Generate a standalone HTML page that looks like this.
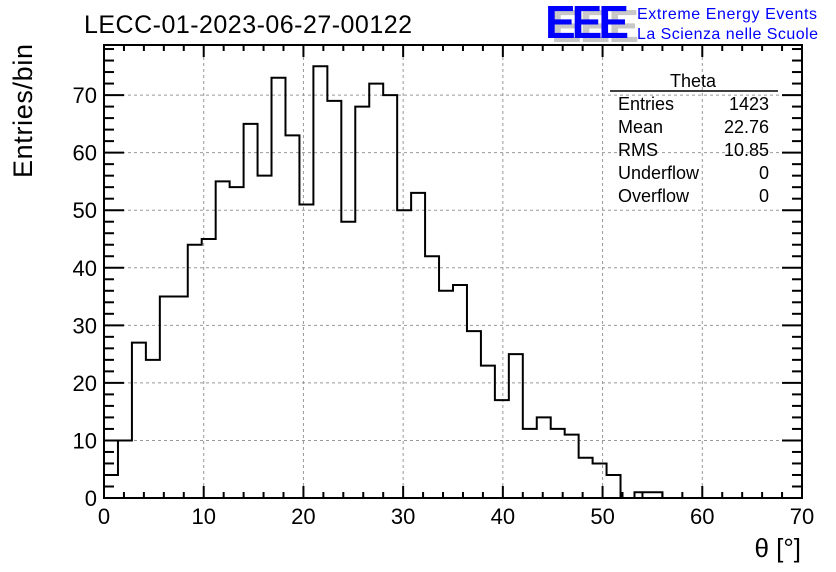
<!DOCTYPE html>
<html><head><meta charset="utf-8"><style>
html,body{margin:0;padding:0;background:#fff;}
svg{display:block;font-family:"Liberation Sans",sans-serif;}
</style></head><body>
<svg id="c" width="836" height="572" xmlns="http://www.w3.org/2000/svg">
<rect width="836" height="572" fill="#fff"/>
<text x="84" y="33" font-size="25" textLength="328">LECC-01-2023-06-27-00122</text>
<g>
<text x="551" y="42" font-size="46" fill="#c8c8c8" font-weight="bold" textLength="88">EEE</text>
<text x="545" y="38" font-size="46" fill="#0000ff" font-weight="bold" textLength="84">EEE</text>
<text x="637" y="19" font-size="16" fill="#0000ff" textLength="180">Extreme Energy Events</text>
<text x="637" y="39" font-size="16" fill="#0000ff" textLength="181">La Scienza nelle Scuole</text>
</g>
<g id="grid"></g>
<g id="hist"></g>
<g id="axes"></g>
<g font-size="18">
<text x="693" y="87" text-anchor="middle">Theta</text>
<line x1="610" y1="91" x2="778" y2="91" stroke="#000" stroke-width="1.5"/>
<text x="618" y="110">Entries</text><text x="769" y="110" text-anchor="end">1423</text>
<text x="618" y="133">Mean</text><text x="769" y="133" text-anchor="end">22.76</text>
<text x="618" y="156">RMS</text><text x="769" y="156" text-anchor="end">10.85</text>
<text x="618" y="179">Underflow</text><text x="769" y="179" text-anchor="end">0</text>
<text x="618" y="202">Overflow</text><text x="769" y="202" text-anchor="end">0</text>
</g>
<text transform="translate(32,178) rotate(-90)" font-size="27" textLength="134">Entries/bin</text>
<text x="801" y="557" font-size="26" text-anchor="end">θ [°]</text>
</svg>
<script>
const counts=[4,10,27,24,35,35,44,45,55,54,65,56,73,63,51,75,69,48,68,72,70,50,53,42,36,37,29,23,17,25,12,14,12,11,7,6,4,0,1,1,0,0,0,0,0,0,0,0,0,0];
const xTicks=[0,10,20,30,40,50,60,70];
const yTicks=[0,10,20,30,40,50,60,70];
const xMin=0,xMax=70,yMin=0,yMax=78.7;
const L=104,R=802,T=45,B=498;
const NS="http://www.w3.org/2000/svg";
const X=v=>L+(v-xMin)/(xMax-xMin)*(R-L);
const Y=v=>B-(v-yMin)/(yMax-yMin)*(B-T);
function mk(tag,attrs,parent){const e=document.createElementNS(NS,tag);for(const k in attrs)e.setAttribute(k,attrs[k]);parent.appendChild(e);return e;}
const grid=document.getElementById('grid'),hist=document.getElementById('hist'),axes=document.getElementById('axes');
xTicks.forEach(t=>{if(t>xMin&&t<xMax){const l=mk('line',{x1:X(t),x2:X(t),y1:T,y2:B,stroke:'#999','stroke-dasharray':'3,3','stroke-width':1},grid);

}});
yTicks.forEach(t=>{if(t>yMin&&t<yMax){const l=mk('line',{x1:L,x2:R,y1:Y(t),y2:Y(t),stroke:'#999','stroke-dasharray':'3,3','stroke-width':1},grid);

}});
const bw=(xMax-xMin)/counts.length;
let d='M'+X(0)+','+Y(0);
counts.forEach((c,i)=>{d+=' L'+X(i*bw)+','+Y(c)+' L'+X((i+1)*bw)+','+Y(c);});
d+=' L'+X(xMax)+','+Y(0);
const p=mk('path',{d:d,fill:'none',stroke:'#000','stroke-width':2},hist);


const fr=mk('rect',{x:L,y:T,width:R-L,height:B-T,fill:'none',stroke:'#000','stroke-width':2},axes);


for(let v=xMin;v<=xMax;v+=2){const maj=v%10===0;const len=maj?12:6;
mk('line',{x1:X(v),x2:X(v),y1:B,y2:B-len,stroke:'#000','stroke-width':2},axes);
mk('line',{x1:X(v),x2:X(v),y1:T,y2:T+len,stroke:'#000','stroke-width':2},axes);}
for(let v=yMin;v<=yMax;v+=2){const maj=v%10===0;const len=maj?20:10;
mk('line',{x1:L,x2:L+len,y1:Y(v),y2:Y(v),stroke:'#000','stroke-width':2},axes);
mk('line',{x1:R,x2:R-len,y1:Y(v),y2:Y(v),stroke:'#000','stroke-width':2},axes);}
xTicks.forEach(t=>{const e=mk('text',{x:X(t),y:524,'font-size':22,'text-anchor':'middle'},axes);e.textContent=t;

});
yTicks.forEach(t=>{const e=mk('text',{x:97,y:Y(t)+8,'font-size':22,'text-anchor':'end'},axes);e.textContent=t;

});
</script>
</body></html>
